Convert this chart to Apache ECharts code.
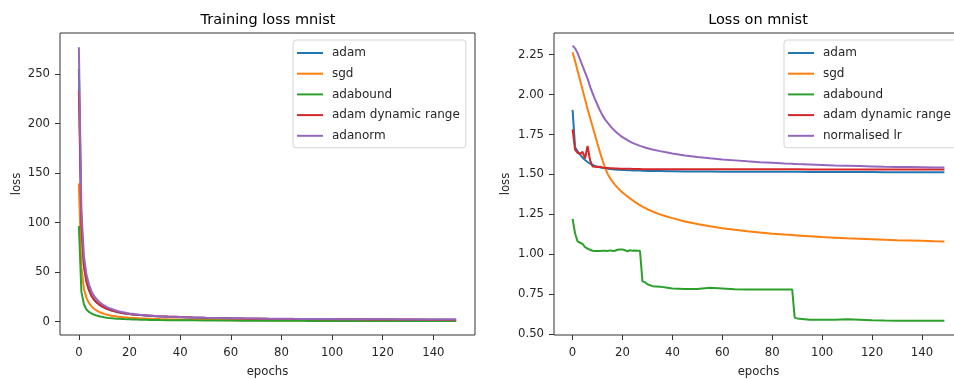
<!DOCTYPE html>
<html>
<head>
<meta charset="utf-8">
<script src="https://cdn.jsdelivr.net/npm/echarts@6/dist/echarts.min.js"></script>
<style>html,body{margin:0;padding:0;background:#fff;}#c{width:954px;height:379px;}</style>
</head>
<body>
<div id="c"></div>
<script>
// ---- data ----
const epochs = [0,1,2,3,4,5,6,7,8,9,
  10,11,12,13,14,15,16,17,18,19,
  20,21,22,23,24,25,26,27,28,29,
  30,32,35,38,40,45,50,55,60,65,
  70,75,80,85,88,89,90,95,100,105,
  110,115,120,125,130,135,140,145,149];

// Training loss mnist
const trainAdam = [255,97,56,40,31.5,25.8,22,19.3,17.2,15.5,
  14.1,12.9,11.9,11.1,10.4,9.8,9.2,8.7,8.3,7.9,
  7.6,7.3,7.0,6.8,6.6,6.4,6.2,6.0,5.85,5.7,
  5.55,5.3,4.95,4.65,4.45,4.05,3.7,3.45,3.2,3.0,
  2.85,2.7,2.6,2.5,2.45,2.43,2.4,2.33,2.27,2.2,
  2.15,2.1,2.05,2.0,1.96,1.92,1.88,1.85,1.82];
const trainSgd = [139.5,55,33,24,18.8,15.4,13.0,11.2,9.8,8.7,
  7.8,7.1,6.5,6.0,5.6,5.2,4.9,4.6,4.35,4.15,
  3.95,3.75,3.6,3.45,3.3,3.2,3.1,3.0,2.9,2.8,
  2.72,2.57,2.38,2.22,2.12,1.92,1.75,1.62,1.5,1.4,
  1.32,1.25,1.18,1.12,1.09,1.08,1.07,1.03,0.99,0.95,
  0.92,0.89,0.86,0.84,0.82,0.8,0.78,0.76,0.75];
const trainAdabound = [96.5,30,17.5,12.3,9.8,8.2,7.0,6.1,5.4,4.85,
  4.4,4.0,3.7,3.45,3.2,3.0,2.85,2.7,2.55,2.45,
  2.35,2.25,2.15,2.07,2.0,1.93,1.87,1.82,1.77,1.72,
  1.68,1.6,1.5,1.42,1.37,1.27,1.18,1.1,1.04,0.98,
  0.93,0.88,0.84,0.8,0.78,0.77,0.76,0.73,0.7,0.67,
  0.65,0.62,0.6,0.58,0.56,0.55,0.53,0.52,0.51];
const trainAdamDR = [233,96,56.5,40.5,32,26.2,22.3,19.5,17.4,15.7,
  14.3,13.1,12.1,11.3,10.6,10.0,9.4,8.9,8.5,8.1,
  7.8,7.5,7.2,7.0,6.8,6.6,6.4,6.2,6.05,5.9,
  5.75,5.5,5.15,4.85,4.65,4.25,3.9,3.6,3.35,3.15,
  3.0,2.85,2.75,2.65,2.6,2.58,2.55,2.48,2.42,2.36,
  2.3,2.25,2.2,2.15,2.1,2.06,2.02,1.99,1.96];
const trainAdanorm = [277,112,66,47.5,37.5,30.5,26,22.6,20,18,
  16.3,14.9,13.7,12.7,11.8,11.0,10.3,9.7,9.2,8.7,
  8.3,7.95,7.6,7.3,7.0,6.75,6.5,6.3,6.1,5.95,
  5.8,5.5,5.15,4.85,4.65,4.25,3.95,3.7,3.5,3.3,
  3.15,3.0,2.9,2.8,2.75,2.73,2.7,2.62,2.55,2.5,
  2.45,2.4,2.35,2.3,2.26,2.22,2.18,2.15,2.12];

// Loss on mnist
const lossAdam = [1.904,1.67,1.645,1.625,1.605,1.59,1.578,1.568,1.56,1.553,
  1.548,1.544,1.541,1.538,1.536,1.534,1.532,1.531,1.53,1.529,
  1.528,1.527,1.526,1.526,1.525,1.525,1.524,1.524,1.523,1.523,
  1.522,1.522,1.521,1.52,1.52,1.519,1.518,1.518,1.517,1.517,
  1.517,1.516,1.516,1.516,1.516,1.516,1.516,1.515,1.515,1.515,
  1.515,1.515,1.515,1.514,1.514,1.514,1.514,1.514,1.514];
const lossSgd = [2.265,2.21,2.15,2.09,2.03,1.97,1.91,1.855,1.80,1.745,
  1.69,1.638,1.588,1.542,1.505,1.477,1.455,1.435,1.417,1.401,
  1.387,1.374,1.362,1.35,1.338,1.327,1.317,1.307,1.298,1.29,
  1.282,1.268,1.25,1.235,1.226,1.205,1.189,1.175,1.163,1.153,
  1.144,1.136,1.129,1.123,1.12,1.119,1.118,1.113,1.108,1.104,
  1.1,1.097,1.094,1.091,1.088,1.086,1.084,1.081,1.079];
const lossAdabound = [1.222,1.13,1.08,1.072,1.065,1.045,1.035,1.028,1.022,1.02,
  1.02,1.02,1.022,1.022,1.02,1.024,1.02,1.022,1.028,1.03,
  1.03,1.025,1.018,1.025,1.022,1.024,1.022,1.022,0.83,0.825,
  0.812,0.80,0.797,0.79,0.785,0.782,0.782,0.79,0.785,0.78,
  0.779,0.779,0.779,0.779,0.779,0.603,0.598,0.59,0.589,0.59,
  0.592,0.59,0.587,0.585,0.584,0.584,0.583,0.583,0.583];
const lossAdamDR = [1.782,1.655,1.635,1.628,1.642,1.60,1.678,1.59,1.55,1.548,
  1.546,1.548,1.543,1.541,1.54,1.539,1.538,1.537,1.537,1.536,
  1.536,1.535,1.535,1.535,1.534,1.534,1.534,1.534,1.533,1.533,
  1.533,1.533,1.533,1.532,1.532,1.532,1.532,1.532,1.532,1.532,
  1.532,1.532,1.532,1.532,1.532,1.532,1.532,1.531,1.531,1.531,
  1.531,1.531,1.531,1.531,1.531,1.531,1.531,1.531,1.531];
const lossNormLr = [2.307,2.29,2.26,2.22,2.18,2.14,2.10,2.05,2.01,1.97,
  1.935,1.90,1.87,1.845,1.825,1.805,1.787,1.772,1.758,1.745,
  1.734,1.724,1.715,1.706,1.698,1.691,1.685,1.679,1.674,1.669,
  1.664,1.656,1.646,1.637,1.631,1.619,1.609,1.601,1.594,1.588,
  1.582,1.577,1.573,1.569,1.567,1.566,1.565,1.562,1.559,1.556,
  1.554,1.552,1.55,1.548,1.547,1.546,1.545,1.544,1.543];

const xTicks = [0,20,40,60,80,100,120,140];
const yTicksTrain = [0,50,100,150,200,250];
const yTicksLoss = [0.5,0.75,1.0,1.25,1.5,1.75,2.0,2.25];

const namesTrain = ['adam','sgd','adabound','adam dynamic range','adanorm'];
const namesLoss = ['adam','sgd','adabound','adam dynamic range','normalised lr'];
const colors = ['#1f77b4','#ff7f0e','#2ca02c','#d62728','#9467bd'];
const trainData = [trainAdam, trainSgd, trainAdabound, trainAdamDR, trainAdanorm];
const lossData = [lossAdam, lossSgd, lossAdabound, lossAdamDR, lossNormLr];

// ---- chart ----
const FONT = 'DejaVu Sans';
const TXT = '#262626';
const AX = '#333';

function xAxisCfg(gi) {
  return {
    gridIndex: gi, type: 'value', min: -7.45, max: 156.45,
    axisLine: {show: false, onZero: false}, splitLine: {show: false},
    axisTick: {show: true, length: 5, lineStyle: {color: AX}, customValues: xTicks},
    axisLabel: {customValues: xTicks, margin: 12, fontSize: 11.7, color: TXT, fontFamily: FONT},
    name: 'epochs', nameLocation: 'middle', nameGap: 31,
    nameTextStyle: {fontSize: 11.7, color: TXT, fontFamily: FONT}
  };
}
function yAxisCfg(gi, min, max, ticks, fmt, gap) {
  return {
    gridIndex: gi, type: 'value', min: min, max: max,
    axisLine: {show: false, onZero: false}, splitLine: {show: false},
    axisTick: {show: true, length: 5, lineStyle: {color: AX}, customValues: ticks},
    axisLabel: {customValues: ticks, margin: 10, fontSize: 11.7, color: TXT, fontFamily: FONT, formatter: fmt},
    name: 'loss', nameLocation: 'middle', nameGap: gap,
    nameTextStyle: {fontSize: 11.7, color: TXT, fontFamily: FONT}
  };
}
function legendCfg(left, names) {
  return {
    left: left, top: 40, orient: 'vertical', data: names, icon: 'rect',
    itemWidth: 26, itemHeight: 2, itemGap: 6.7, padding: [6, 6, 5, 4],
    backgroundColor: '#fff', borderColor: '#d5d5d5', borderWidth: 1, borderRadius: 3,
    selectedMode: false,
    textStyle: {fontSize: 12, lineHeight: 14, color: TXT, fontFamily: FONT, padding: [0, 0, 0, 4]}
  };
}

const series = [];
namesTrain.forEach((n, i) => {
  series.push({
    name: n, type: 'line', xAxisIndex: 0, yAxisIndex: 0, showSymbol: false, symbol: 'none',
    lineStyle: {width: 2, color: colors[i]}, itemStyle: {color: colors[i]},
    data: epochs.map((e, k) => [e, trainData[i][k]]), animation: false
  });
});
namesLoss.forEach((n, i) => {
  series.push({
    name: n, type: 'line', xAxisIndex: 1, yAxisIndex: 1, showSymbol: false, symbol: 'none',
    lineStyle: {width: 2, color: colors[i]}, itemStyle: {color: colors[i]},
    data: epochs.map((e, k) => [e, lossData[i][k]]), animation: false
  });
});

const chart = echarts.init(document.getElementById('c'), null, {renderer: 'canvas'});
chart.setOption({
  animation: false,
  backgroundColor: '#fff',
  title: [
    {text: 'Training loss mnist', left: 268, top: 13, textAlign: 'center', padding: 0,
      textStyle: {fontSize: 14.5, fontWeight: 'normal', color: '#000', fontFamily: FONT}},
    {text: 'Loss on mnist', left: 758, top: 13, textAlign: 'center', padding: 0,
      textStyle: {fontSize: 14.5, fontWeight: 'normal', color: '#000', fontFamily: FONT}}
  ],
  grid: [
    {left: 60, top: 33, width: 415, height: 302, show: true, borderColor: AX, borderWidth: 1, backgroundColor: 'transparent', containLabel: false, outerBoundsMode: 'none'},
    {left: 554, top: 33, width: 409, height: 302, show: true, borderColor: AX, borderWidth: 1, backgroundColor: 'transparent', containLabel: false, outerBoundsMode: 'none'}
  ],
  xAxis: [xAxisCfg(0), xAxisCfg(1)],
  yAxis: [
    yAxisCfg(0, -13.5, 291.4, yTicksTrain, v => String(v), 37),
    yAxisCfg(1, 0.494, 2.386, yTicksLoss, v => v.toFixed(2), 42)
  ],
  legend: [legendCfg(293, namesTrain), legendCfg(784, namesLoss)],
  series: series
});
</script>
</body>
</html>
